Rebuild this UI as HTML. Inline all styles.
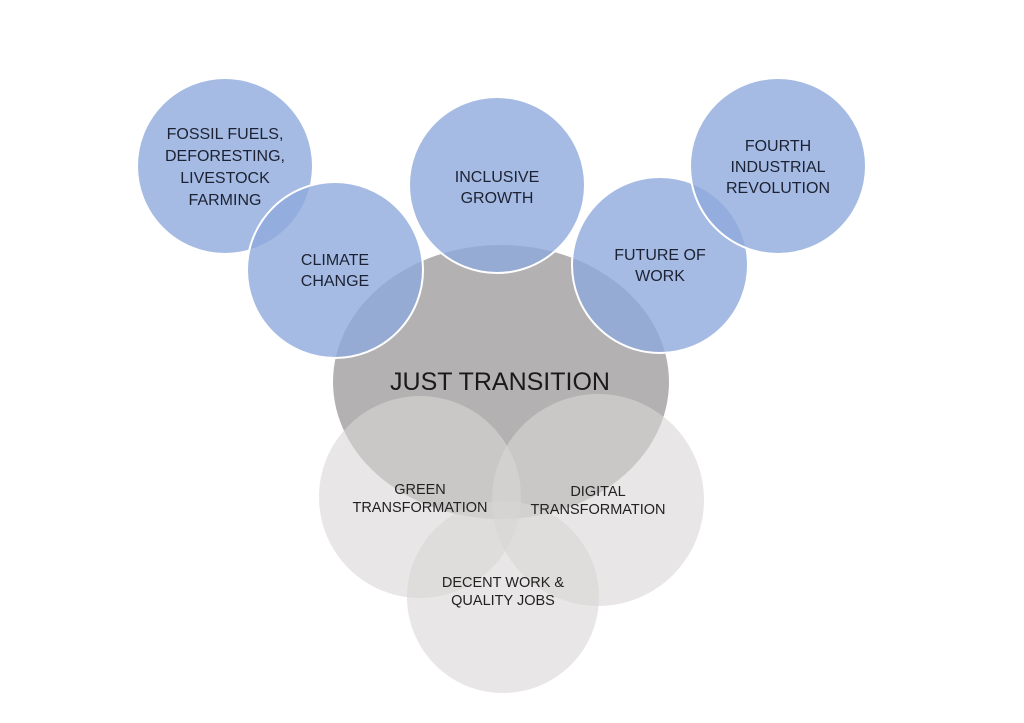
<!DOCTYPE html>
<html><head><style>body{margin:0;background:#fff}svg{display:block}</style></head><body>
<svg width="1024" height="723" viewBox="0 0 1024 723" xmlns="http://www.w3.org/2000/svg" font-family="'Liberation Sans', sans-serif" text-anchor="middle">
<ellipse cx="501" cy="382" rx="168" ry="137" fill="#b3b1b1"/>
<g fill="#8eaadc" fill-opacity="0.8" stroke="#fff" stroke-width="2">
<circle cx="225" cy="166" r="88"/>
<circle cx="335" cy="270" r="88"/>
<circle cx="497" cy="185" r="88"/>
<circle cx="660" cy="265" r="88"/>
<circle cx="778" cy="166" r="88"/>
</g>
<g fill="#d8d6d6" fill-opacity="0.6">
<circle cx="420" cy="497" r="101"/>
<circle cx="598" cy="500" r="106"/>
<circle cx="503" cy="597" r="96"/>
</g>
<g fill="#1c2233" font-size="16">
<text x="225" y="139">FOSSIL FUELS,</text>
<text x="225" y="161">DEFORESTING,</text>
<text x="225" y="183">LIVESTOCK</text>
<text x="225" y="205">FARMING</text>
<text x="335" y="265">CLIMATE</text>
<text x="335" y="286">CHANGE</text>
<text x="497" y="182">INCLUSIVE</text>
<text x="497" y="203">GROWTH</text>
<text x="660" y="260">FUTURE OF</text>
<text x="660" y="281">WORK</text>
<text x="778" y="151">FOURTH</text>
<text x="778" y="172">INDUSTRIAL</text>
<text x="778" y="193">REVOLUTION</text>
</g>
<text x="500" y="390" font-size="25" fill="#1a1a1a">JUST TRANSITION</text>
<g fill="#222" font-size="14.5">
<text x="420" y="494">GREEN</text>
<text x="420" y="512">TRANSFORMATION</text>
<text x="598" y="496">DIGITAL</text>
<text x="598" y="514">TRANSFORMATION</text>
<text x="503" y="587">DECENT WORK &amp;</text>
<text x="503" y="605">QUALITY JOBS</text>
</g>
</svg>
</body></html>
